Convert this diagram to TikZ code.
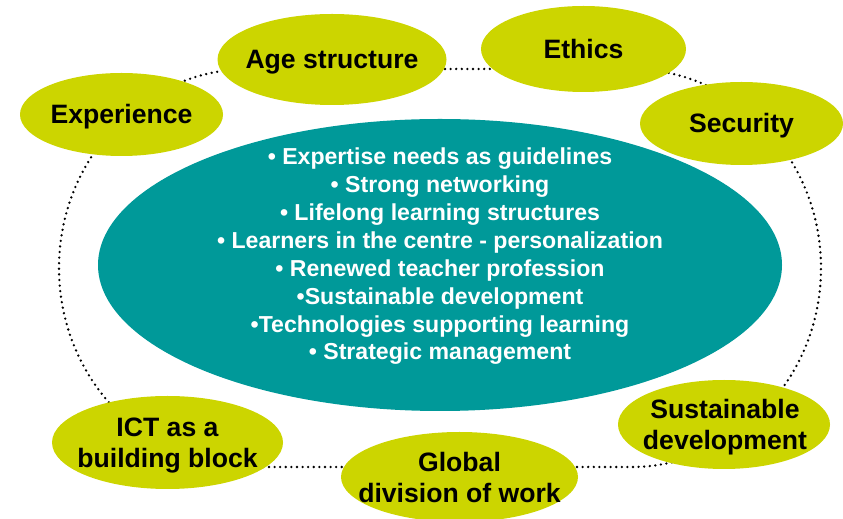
\documentclass[tikz,border=0pt]{standalone}
\usepackage{fontspec}
\setmainfont{Liberation Sans}
\usetikzlibrary{shapes.geometric}
\definecolor{leafc}{RGB}{204,213,0}
\definecolor{corec}{RGB}{0,153,153}
\tikzset{
  leaf/.style={ellipse, fill=leafc, draw=none, inner sep=0pt},
  core/.style={ellipse, fill=corec, draw=none, inner sep=0pt},
  lbl/.style={font=\bfseries\fontsize{26.6}{31}\selectfont, align=center, inner sep=0pt, text=black},
  onelbl/.style={lbl, text height=19pt, text depth=0pt},
  corelbl/.style={font=\bfseries\fontsize{23.1}{27.86}\selectfont, align=center, inner sep=0pt, text=white},
  ring/.style={draw=black, line width=2.6pt, line cap=round, dash pattern=on 0pt off 5.6pt}
}
\begin{document}
\begin{tikzpicture}[x=1pt,y=1pt]
\useasboundingbox (0,0) rectangle (843,519);
% dotted ring
\draw[ring] (249,450) -- (631,450)
  arc[start angle=90, end angle=-90, x radius=190, y radius=199]
  -- (249,52)
  arc[start angle=270, end angle=90, x radius=190, y radius=199] -- cycle;
% central ellipse
\node[core, minimum width=684pt, minimum height=292pt] (core) at (440,254) {};
\node[corelbl] (coretext) at (440,262.5) {%
• Expertise needs as guidelines\\
• Strong networking\\
• Lifelong learning structures\\
• Learners in the centre - personalization\\
• Renewed teacher profession\\
•Sustainable development\\
•Technologies supporting learning\\
• Strategic management};
% outer ellipses
\node[leaf, minimum width=203pt, minimum height=83pt] (exp) at (121.5,404.5) {};
\node[onelbl] at (exp.center) {Experience};
\node[leaf, minimum width=229pt, minimum height=91pt] (age) at (332,459.5) {};
\node[onelbl] at (age.center) {Age structure};
\node[leaf, minimum width=205pt, minimum height=86pt] (eth) at (583.5,470) {};
\node[onelbl] at (eth.center) {Ethics};
\node[leaf, minimum width=203pt, minimum height=83pt] (sec) at (741.5,395.5) {};
\node[onelbl] at (sec.center) {Security};
\node[leaf, minimum width=231pt, minimum height=93pt] (ict) at (167.5,76.5) {};
\node[lbl] at (167.5,73.3) {ICT as a\\building block};
\node[leaf, minimum width=237pt, minimum height=90pt] (glob) at (459.5,42) {};
\node[lbl] at (459.5,42) {Global\\division of work};
\node[leaf, minimum width=212pt, minimum height=89pt] (sust) at (724,94.5) {};
\node[lbl] at (725,91.8) {Sustainable\\development};
\end{tikzpicture}
\end{document}
